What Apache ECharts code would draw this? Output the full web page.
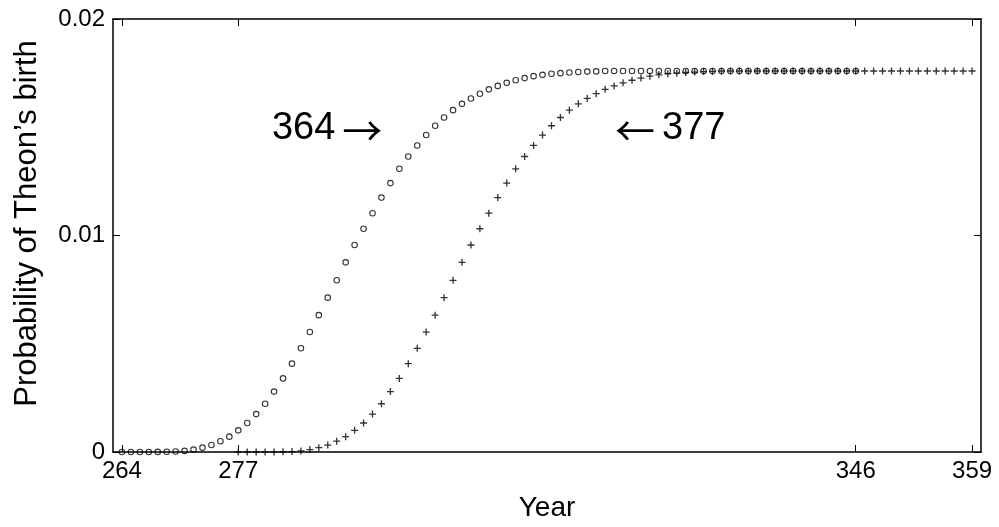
<!DOCTYPE html>
<html>
<head>
<meta charset="utf-8">
<script src="https://cdn.jsdelivr.net/npm/echarts@6/dist/echarts.min.js"></script>
<style>
html,body{margin:0;padding:0;background:#fff;}
#c{width:999px;height:527px;}
</style>
</head>
<body>
<div id="c"></div>
<script>
// ---- data ----
const startYear364 = 264;
const values364 = [
  0, 0, 0, 0, 0.000005, 0.00001, 0.00002, 0.00005, 0.00011, 0.0002,
  0.00032, 0.0005, 0.00071, 0.001, 0.00134, 0.00175, 0.00223, 0.00279, 0.0034, 0.00408,
  0.00479, 0.00554, 0.00632, 0.00713, 0.00793, 0.00876, 0.00956, 0.01031, 0.01103, 0.01175,
  0.01242, 0.01308, 0.01365, 0.01416, 0.01464, 0.01507, 0.01545, 0.01579, 0.01608, 0.01633,
  0.01655, 0.01675, 0.01691, 0.01705, 0.01717, 0.01727, 0.01736, 0.01742, 0.01747, 0.0175,
  0.01753, 0.01755, 0.01757, 0.01758, 0.0176, 0.0176, 0.0176, 0.0176, 0.0176, 0.0176,
  0.0176, 0.0176, 0.0176, 0.0176, 0.0176, 0.0176, 0.0176, 0.0176, 0.0176, 0.0176,
  0.0176, 0.0176, 0.0176, 0.0176, 0.0176, 0.0176, 0.0176, 0.0176, 0.0176, 0.0176,
  0.0176, 0.0176, 0.0176
];
const startYear377 = 277;
const values377 = [
  0, 0, 0, 0, 0.000005, 0.00001, 0.00002, 0.00005, 0.00011, 0.0002,
  0.00032, 0.0005, 0.00071, 0.001, 0.00134, 0.00175, 0.00223, 0.00279, 0.0034, 0.00408,
  0.00479, 0.00554, 0.00632, 0.00713, 0.00793, 0.00876, 0.00956, 0.01031, 0.01103, 0.01175,
  0.01242, 0.01308, 0.01365, 0.01416, 0.01464, 0.01507, 0.01545, 0.01579, 0.01608, 0.01633,
  0.01655, 0.01675, 0.01691, 0.01705, 0.01717, 0.01727, 0.01736, 0.01742, 0.01747, 0.0175,
  0.01753, 0.01755, 0.01757, 0.01758, 0.0176, 0.0176, 0.0176, 0.0176, 0.0176, 0.0176,
  0.0176, 0.0176, 0.0176, 0.0176, 0.0176, 0.0176, 0.0176, 0.0176, 0.0176, 0.0176,
  0.0176, 0.0176, 0.0176, 0.0176, 0.0176, 0.0176, 0.0176, 0.0176, 0.0176, 0.0176,
  0.0176, 0.0176, 0.0176
];
const xTicks = [264, 277, 346, 359];
const yTicks = [0, 0.01, 0.02];
const yTickLabels = ['0', '0.01', '0.02'];
const annot364 = { num: '364', arrow: '\u2192', coord: [293.1, 0.01493] };
const annot377 = { num: '377', arrow: '\u2190', coord: [319.1, 0.01493] };

// ---- build chart ----
const FONT = '"Liberation Sans", Arial, Helvetica, sans-serif';
const data364 = values364.map((v, i) => [startYear364 + i, v]);
const data377 = values377.map((v, i) => [startYear377 + i, v]);
const plusPath = 'path://M-0.19,-1L0.19,-1L0.19,-0.19L1,-0.19L1,0.19L0.19,0.19L0.19,1L-0.19,1L-0.19,0.19L-1,0.19L-1,-0.19L-0.19,-0.19Z';

const axisLine = { show: true, onZero: false, lineStyle: { color: '#000', width: 1.5 } };
const tickStyle = { inside: true, length: 7, lineStyle: { color: '#000', width: 1 } };
const richAnnot = {
  n: { color: '#000', fontSize: 38, fontFamily: FONT },
  a: { color: '#000', fontSize: 40, fontFamily: '"Noto Sans CJK SC", "DejaVu Sans", sans-serif', padding: [4, 0, 0, 0] },
  s: { fontSize: 38, width: 7 }
};

const chart = echarts.init(document.getElementById('c'), null, { renderer: 'canvas' });
chart.setOption({
  animation: false,
  backgroundColor: '#fff',
  textStyle: { fontFamily: FONT },
  grid: { left: 113, right: 18, top: 19, bottom: 74, containLabel: false },
  xAxis: [
    {
      type: 'value', min: 263, max: 360, position: 'bottom',
      name: 'Year', nameLocation: 'middle', nameGap: 56,
      nameTextStyle: { color: '#000', fontSize: 28, fontFamily: FONT, verticalAlign: 'middle' },
      axisLine: axisLine,
      axisTick: Object.assign({ customValues: xTicks }, tickStyle),
      axisLabel: { customValues: xTicks, color: '#000', fontSize: 24, fontFamily: FONT, margin: 7 },
      splitLine: { show: false }
    },
    {
      type: 'value', min: 263, max: 360, position: 'top',
      axisLine: axisLine,
      axisTick: Object.assign({ customValues: xTicks }, tickStyle),
      axisLabel: { show: false },
      splitLine: { show: false }
    }
  ],
  yAxis: [
    {
      type: 'value', min: 0, max: 0.02, interval: 0.01, position: 'left',
      name: 'Probability of Theon\u2019s birth', nameLocation: 'middle', nameGap: 86,
      nameTextStyle: { color: '#000', fontSize: 31, fontFamily: FONT, verticalAlign: 'middle', padding: [0, 0, 0, 24] },
      axisLine: axisLine,
      axisTick: tickStyle,
      axisLabel: {
        color: '#000', fontSize: 24, fontFamily: FONT, margin: 8,
        formatter: function (v) { const i = yTicks.findIndex(t => Math.abs(t - v) < 1e-9); return i >= 0 ? yTickLabels[i] : ''; }
      },
      splitLine: { show: false }
    },
    {
      type: 'value', min: 0, max: 0.02, interval: 0.01, position: 'right',
      axisLine: axisLine,
      axisTick: tickStyle,
      axisLabel: { show: false },
      splitLine: { show: false }
    }
  ],
  series: [
    {
      name: '364', type: 'scatter', data: data364,
      symbol: 'circle', symbolSize: 5.5,
      itemStyle: { color: 'rgba(255,255,255,0)', borderColor: '#000', borderWidth: 1.1 },
      z: 3,
      markPoint: {
        symbol: 'circle', symbolSize: 0,
        label: {
          show: true, position: 'left', distance: 0,
          formatter: '{n|' + annot364.num + '}{s|}{a|' + annot364.arrow + '}',
          rich: richAnnot
        },
        data: [{ coord: annot364.coord }]
      }
    },
    {
      name: '377', type: 'scatter', data: data377,
      symbol: plusPath, symbolSize: 7,
      itemStyle: { color: '#000' },
      z: 4,
      markPoint: {
        symbol: 'circle', symbolSize: 0,
        label: {
          show: true, position: 'right', distance: 0,
          formatter: '{a|' + annot377.arrow + '}{s|}{n|' + annot377.num + '}',
          rich: richAnnot
        },
        data: [{ coord: annot377.coord }]
      }
    }
  ]
});
</script>
</body>
</html>
